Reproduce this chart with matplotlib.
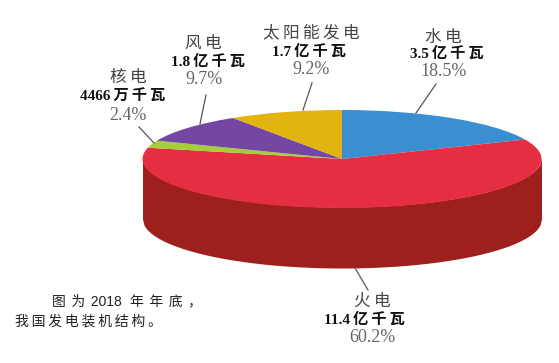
import numpy as np
import matplotlib
matplotlib.use('Agg')
import matplotlib.pyplot as plt

# share of installed capacity, end of 2018 (clockwise from the top)
names = ['水电', '火电', '核电', '风电', '太阳能发电']
capacity = ['3.5亿千瓦', '11.4亿千瓦', '4466万千瓦', '1.8亿千瓦', '1.7亿千瓦']
shares = [18.5, 60.2, 2.4, 9.7, 9.2]
colors = ['#3a8fd3', '#e52e42', '#a5cf3a', '#7547a5', '#e3b30f']
caption = ['图为2018年年底，', '我国发电装机结构。']

W, H = 559, 363
cx, cy, rx, ry, depth = 342, 159, 199.5, 49, 60

fig = plt.figure(figsize=(W / 100, H / 100), dpi=100)
ax = fig.add_axes([0, 0, 1, 1])

ax.pie(shares, colors=colors, startangle=90, counterclock=False, radius=1,
       wedgeprops={'linewidth': 0, 'zorder': 3})
ax.set_aspect('auto')
ax.set_xlim(-cx / rx, (W - cx) / rx)
ax.set_ylim((cy - H) / ry, cy / ry)

# side wall of the disc
t = np.linspace(-1, 1, 300)
low = -np.sqrt(1 - t ** 2)
ax.fill_between(t, low - depth / ry, low + 0.02, color='#9e201c', lw=0, zorder=2)


def px(x, y):
    return x / W, 1 - y / H


def spaced(s, gap='\u2009'):
    # thin space before every CJK character except a leading one
    out = ''
    for i, ch in enumerate(s):
        if ord(ch) > 255 and i > 0:
            out += gap
        out += ch
    return out


# label positions in pixels: name, capacity, share, leader line
spots = [
    ((443, 38), (447, 54), (444, 72), (436, 84, 416, 113)),
    ((372, 302), (364, 320), (372, 338), (355, 268, 368, 290)),
    ((128, 78), (123, 97), (128, 115), (139, 127, 154, 143)),
    ((203, 44), (208, 62), (204, 79), (206, 95, 200, 124)),
    ((311, 33), (309, 52), (311, 69), (312, 83, 303, 110)),
]
fam = ['Liberation Serif', 'Noto Sans CJK SC', 'DejaVu Sans']
for name, cap, share, (a, b, c, line) in zip(names, capacity, shares, spots):
    fig.text(*px(*a), spaced(name), family=fam, fontsize=12, color='#444444',
             ha='center', va='center')
    fig.text(*px(*b), spaced(cap), family=fam, fontsize=11, color='#111111',
             fontweight='bold', ha='center', va='center')
    fig.text(*px(*c), f'{share}%', family=fam, fontsize=13, color='#666666',
             ha='center', va='center')
    x0, y0 = px(line[0], line[1])
    x1, y1 = px(line[2], line[3])
    fig.add_artist(plt.Line2D([x0, x1], [y0, y1], color='#555555', lw=0.9))

cap_fam = ['Liberation Sans', 'Noto Sans CJK SC', 'DejaVu Sans']
first = spaced(caption[0], '\u2009\u2009').replace('2018', '\u2009\u20092018\u2009')
fig.text(*px(52, 301), first, family=cap_fam, fontsize=10, color='#222222',
         va='center')
fig.text(*px(15, 322), '\u2009'.join(caption[1]), family=cap_fam, fontsize=10,
         color='#222222', va='center')

fig.savefig('out.png', dpi=100)
